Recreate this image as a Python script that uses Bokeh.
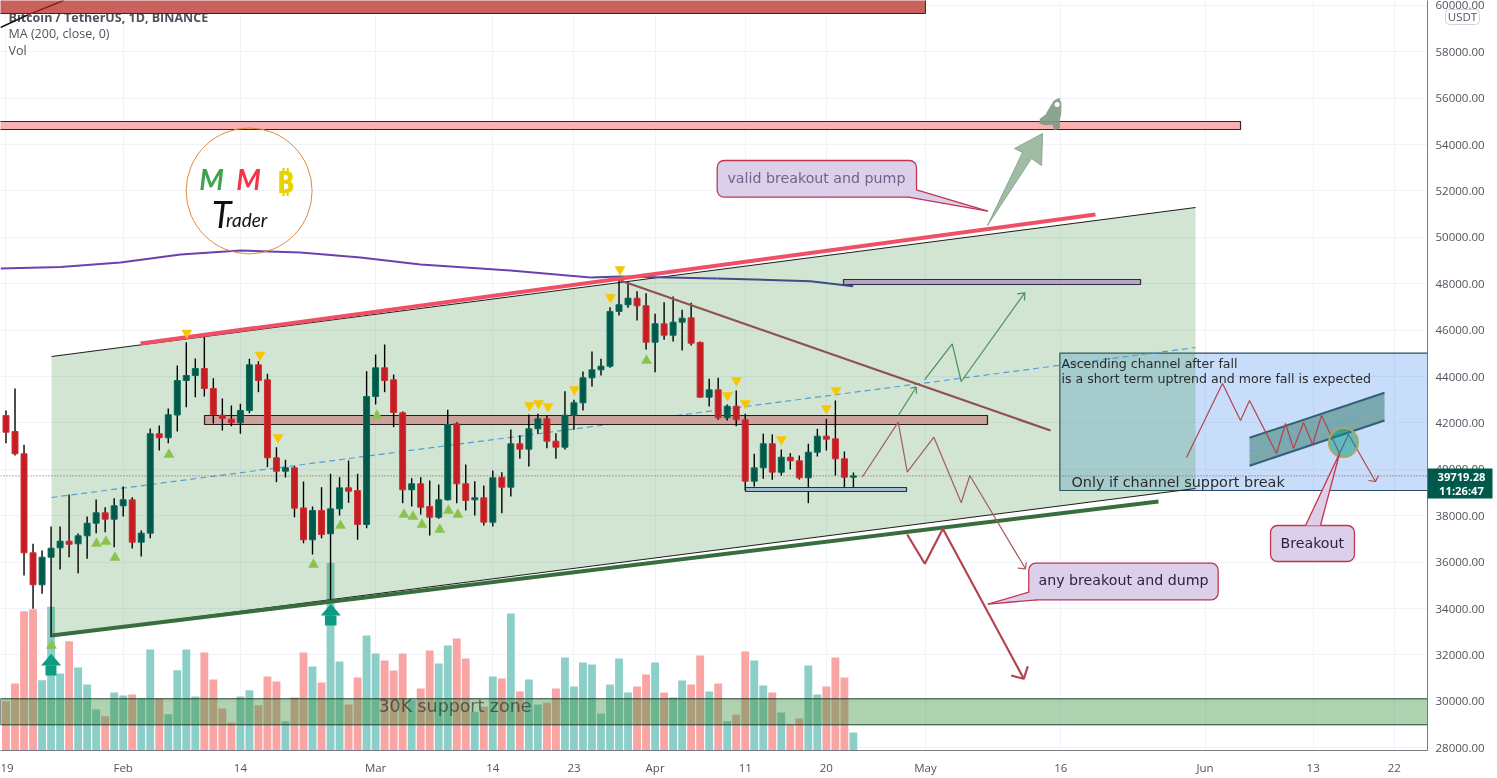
from bokeh.plotting import figure
from bokeh.embed import file_html
from bokeh.resources import INLINE
from bokeh.models import Range1d, FixedTicker, BoxAnnotation
from bokeh.core.properties import value

# ---- daily candles, Jan 19 = day 0 -------------------------------------
opens = [42322,41632,40671,36404,35025,36214,36619,36904,36792,37137,37680,38128,37852,38430,38688,36861,37249,41533,41360,42343,43830,44045,44347,43485,42334,42162,42007,42537,44507,43860,40498,39921,40067,38335,36964,38227,37223,38300,39205,39089,37624,43140,44377,43860,42438,39119,39378,38399,37938,38688,
         41964,39378,38688,38774,37723,39662,39231,41102,40869,41748,42179,41214,40955,42334,42869,43946,44291,44446,46804,47093,47377,47050,45481,46274,45782,46343,46532,45468,43110,43429,42222,42722,42136,39490,40067,41102,39878,40524,40369,39636,40740,41429,41317,40455,39662]
highs = [42537,43485,41059,36792,36503,37537,37537,38917,37236,37968,38701,38369,38757,39261,38800,37365,41761,41890,42623,44476,45481,44778,45813,43929,43054,42752,42826,44765,44662,44119,40955,40412,40136,39477,38399,39231,39809,39662,40382,39809,44231,44951,45382,44089,42494,39619,39662,39520,39348,42567,
         42033,40210,39490,39304,39951,39878,41718,41459,42365,42395,42321,41559,43369,42998,44218,45080,44765,46989,48213,48110,47679,47593,46705,47205,47450,46877,47179,45511,43903,43946,42796,43399,42395,40671,41533,41503,40856,40697,40597,41102,41748,42179,42968,40770,39865]
lows = [41128,40597,35425,33990,34637,32766,35684,36214,35525,36145,37249,37292,36645,37968,36589,36244,37033,40813,41128,41632,42679,43110,43140,41977,41675,41860,41533,42421,43326,40093,39447,39649,37938,36818,36331,37033,34275,38011,38559,36964,37464,42796,43326,41817,38542,38399,38055,37149,37869,38658,
        38542,38227,38011,37580,37537,38111,38830,40455,40123,41533,40912,40455,40856,41705,42537,43571,44045,44377,46631,46963,46416,45166,44188,45584,45511,45123,45338,43084,42709,42136,42106,41860,39089,39261,39593,39550,39735,39994,39563,38542,40554,40813,39735,39205,39231]
closes = [41602,40671,36404,35025,36214,36602,36904,36775,37137,37680,38128,37852,38430,38688,36861,37249,41533,41360,42352,43830,44045,44347,43485,42352,42192,42007,42537,44507,43830,40498,39921,40067,38326,36964,38227,37193,38300,39205,39059,37624,43140,44377,43830,42451,39119,39378,38369,37938,38688,41934,
          39378,38658,38774,37723,39636,39231,41102,40869,41748,42179,41214,40955,42334,42869,43946,44291,44446,46804,47093,47377,47050,45481,46274,45782,46343,46515,45438,43110,43429,42222,42722,42136,39490,40067,41102,39878,40524,40369,39636,40740,41429,41300,40455,39662,39719]
volumes = [49.3,67,139.3,141.3,70.3,143.7,77,109.3,83,66,41,34.3,58,55,56,52,101,52,36.3,80.3,101,54,98,71,42,28,54,60.3,45.3,74,69,29.3,53,98,84,68,187.6,89,46,73,115,97,90,80,97,50.3,62,100,87,105,
           112,92,38.7,43.7,74,72,137,59,71,46,47.7,62,93,64,88,86,37,66,92,58,64,76,88,58,53,70,66,95,59,67,29.3,36,99,90,65,58,38,26,32,85,56,64,93,73,18]

ma_days = [-0.61,6.05,12.70,19.36,26.01,32.67,39.32,45.98,52.63,55.96,64.83,68.16,78.92,89.24,93.98]
ma_vals = [48657,48722,48916,49261,49433,49347,49131,48830,48657,48571,48269,48312,48226,48110,47894]

time_ticks = [0,13,26,41,54,63,72,82,91,102,117,133,145,154]
time_labels = ["19","Feb","14","Mar","14","23","Apr","11","20","May","16","Jun","13","22"]
price_ticks = list(range(28000, 60001, 2000))

sell_days = [20.05,28.18,30.17,67.05,68.11,58.07,59.07,60.12,63.06,80.03,81.03,82.03,86.02,91.01,92.07]
sell_vals = [45886,44929,41373,47420,48614,42752,42839,42709,43442,43183,43830,42839,41287,42623,43399]
buy_days = [18.08,10.04,11.09,12.09,34.11,37.10,41.15,44.15,45.15,46.15,48.12,49.08,50.12,71.05,5.05]
buy_vals = [40641,36805,36891,36201,35900,37580,42321,38055,37968,37624,37408,38227,38055,44692,32408]

XL, XR = -0.61, 157.68
YL, YH = 27883, 60208
p = figure(width=1497, height=778, output_backend="svg", toolbar_location=None,
           x_range=Range1d(XL, XR), y_range=Range1d(YL, YH),
           y_axis_location="right", min_border_left=0, min_border_top=0,
           min_border_right=70, min_border_bottom=28,
           background_fill_color="white", border_fill_color="white", outline_line_color=None)
p.styles = {"position": "fixed", "left": "0px", "top": "0px"}
p.extra_y_ranges = {"vol": Range1d(0, 750)}

FONT = "Open Sans"
AXC = "#50535e"
p.xaxis.ticker = FixedTicker(ticks=time_ticks)
p.xaxis.major_label_overrides = dict(zip(time_ticks, time_labels))
p.yaxis.ticker = FixedTicker(ticks=price_ticks)
p.yaxis.major_label_overrides = {t: f"{t}.00" for t in price_ticks}
for ax in (p.xaxis[0], p.yaxis[0]):
    ax.major_tick_line_color = None
    ax.minor_tick_line_color = None
    ax.axis_line_color = "#787b86"
    ax.major_label_text_color = AXC
    ax.major_label_text_font = FONT
    ax.major_label_text_font_size = "11.5px"
p.yaxis.major_label_standoff = 2
p.xaxis.major_label_standoff = 3
p.xgrid.grid_line_color = "#f0f3fa"
p.ygrid.grid_line_color = "#f0f3fa"

idx = list(range(len(opens)))
GREEN, RED = "#00594a", "#c41e24"
up = [c >= o for o, c in zip(opens, closes)]

# volume
p.vbar(x=idx, bottom=0, top=volumes, width=0.87, y_range_name="vol", line_color=None,
       fill_color=["#8ccfc8" if u else "#f8a5a3" for u in up])

def txt(x, y, s, size="12px", color="#333333", font=FONT, style="normal", align="left", alpha=1.0, fig=None):
    return (fig or p).text([x], [y], text=[s], text_font=value(font), text_font_size=size, text_color=color,
                  text_font_style=style, text_align=align, text_baseline="middle", text_alpha=alpha)

txt(0.28, 59475, "Bitcoin / TetherUS, 1D, BINANCE", "12.5px", "#50535e", style="bold")
txt(0.28, 58786, "MA (200, close, 0)", "12.5px", "#50535e")
txt(0.28, 58053, "Vol", "12.5px", "#50535e")

def zone(l, r, b, t, fill, edge="#2a2a2a", alpha=1.0, w=1.0):
    p.quad(left=[l], right=[r], bottom=[b], top=[t], fill_color=fill, fill_alpha=alpha, line_color=edge, line_width=w)

# support band
zone(XL, XR + 1, 28991, 30111, "#388e3c", "#1f3d2a", 0.4)

# info panel sits under the channel
zone(116.9, XR + 1, 39089, 45007, "#1e78e6", "#2c4a63", 0.25, 1.2)

# main channel
ch_x = [5.05, 131.95, 131.95, 5.05]
ch_y = [44864, 51286, 39175, 32839]
p.patch(ch_x, ch_y, fill_color="#388e3c", fill_alpha=0.23, line_color=None)
p.line(ch_x[:2], ch_y[:2], line_color="#1c1c1c", line_width=1)
p.line(ch_x[2:], ch_y[2:], line_color="#1c1c1c", line_width=1)
p.line([5.05, 131.95], [38787, 45252], line_color="#5a9bd4", line_width=1.2, line_dash="6 4")

# last price line
p.line([XL, XR], [39719, 39719], line_color="#9c5048", line_width=1, line_dash="1 2")

# horizontal level behind the candles
zone(22.02, 108.87, 41934, 42321, "#c9a39b", "#2a1a1a", 1.0, 1.2)

# candles
p.segment(x0=idx, x1=idx, y0=lows, y1=highs, line_color="#000000", line_width=1.4)
p.vbar(x=idx, bottom=[min(a, b) for a, b in zip(opens, closes)], top=[max(a, b) for a, b in zip(opens, closes)],
       width=0.66, fill_color=[GREEN if u else RED for u in up],
       line_color=["#0a6b5a" if u else "#cf2f33" for u in up], line_width=1)

# zones
zone(XL - 1, 101.99, 59648, 60500, "#c9615f")
zone(XL - 1, 136.94, 54648, 54993, "#f8b0b0", "#3a2020", 1.0, 1.2)
zone(92.9, 125.85, 47968, 48183, "#b7a3c3", "#2e2a44", 1.0, 1.2)
zone(82.03, 99.89, 39046, 39218, "#a2bcd6", "#1f3350", 1.0, 1.2)

# moving average
p.line(ma_days[:11], ma_vals[:11], line_color="#6a42ad", line_width=2)
p.line(ma_days[10:13], ma_vals[10:13], line_color="#4a4a98", line_width=2)
p.line(ma_days[12:], ma_vals[12:], line_color="#3a4f86", line_width=2)

# trendlines
p.line([-0.61, 2.5], [59044, 59600], line_color="#101010", line_width=1.4)
p.line([2.5, 6.38], [59600, 60208], line_color="#8a1c20", line_width=1.4)
p.line([14.92, 120.85], [45425, 50985], line_color="#ef5065", line_width=4)
p.line([5.05, 127.84], [32839, 38615], line_color="#386e3d", line_width=4)
p.line([68.16, 115.86], [48140, 41675], line_color="#8e5050", line_width=2.2)

# signal markers
p.scatter(sell_days, sell_vals, marker="inverted_triangle", size=10, fill_color="#f7c600", line_color="#f7c600", line_width=0.5)
p.scatter(buy_days, buy_vals, marker="triangle", size=10, fill_color="#8bc34a", line_color="#8bc34a", line_width=0.5)

# teal arrows
TEAL = "#0d9b82"
p.patches([[5.01,3.9,6.12],[36.03,34.92,37.14]], [[32051,31546,31546],[34206,33701,33701]], fill_color=TEAL, line_color=None)
p.quad(left=[4.38,35.38], right=[5.6,36.66], bottom=[31115,33270], top=[31546,33701], fill_color=TEAL, line_color=None)

# projected paths
THIN_R, THICK_R, THIN_G = "#a65c5e", "#b5434f", "#4f8f57"
p.line([94.97,98.97,99.97,102.92,105.96,106.91,113.09],[39662,42033,39878,41386,38559,39735,35714], line_color=THIN_R, line_width=1.2)
p.line([112.23,113.09,113.16],[35740,35714,35999], line_color=THIN_R, line_width=1.2)
p.line([99.97,101.92,103.92,112.9],[37193,35930,37438,30973], line_color=THICK_R, line_width=2.2)
p.line([111.5,112.9,113.34],[31115,30973,31516], line_color=THICK_R, line_width=2.2)
p.line([98.97,100.97],[42321,43541], line_color=THIN_G, line_width=1.2)
p.line([100.33,100.97,101.0],[43498,43541,43257], line_color=THIN_G, line_width=1.2)
p.line([101.89,104.96,105.96,113.01],[43860,45412,43787,47610], line_color=THIN_G, line_width=1.2)
p.line([112.17,113.01,112.98],[47567,47610,47278], line_color=THIN_G, line_width=1.2)

# big arrow and rocket
p.patch([108.87,112.76,111.87,114.98,114.87,113.75],[50510,53657,53829,54476,53096,53398],
        fill_color="#a0bca4", line_color="#8aa78e", line_width=1)
p.patch([116.86,117.08,117.05,116.89,116.94,116.34,116.05,115.2,114.64,114.67,115.31,115.67,116.23],
        [56014,55756,55325,55036,54721,54605,54851,54834,54894,55109,55295,55540,55898],
        fill_color="#7f9a84", fill_alpha=0.9, line_color=None)
p.scatter([116.6],[55726], marker="circle", size=5, fill_color="white", line_color=None)

# logo
p.circle([26.97],[52000], radius=63, radius_units="screen", fill_color=None, line_color="#e08a3c", line_width=1)
txt(22.8, 52536, "M", "28px", "#3fa34d", "Lato", "bold italic", "center")
txt(26.9, 52536, "M", "28px", "#f23645", "Lato", "bold italic", "center")
txt(31.0, 52450, "₿", "31px", "#e8d300", "Noto Sans", "bold", "center")
txt(23.9, 50985, "T", "36px", "#111111", "Lato", "italic", "center")
txt(24.4, 50769, "rader", "19px", "#111111", "Lato", "italic")

# inset
p.patch([137.94,152.91,152.91,137.94],[41360,43300,42106,40154], fill_color="#1f6a50", fill_alpha=0.45, line_color=None)
p.line([137.94,152.91],[41360,43300], line_color="#335f79", line_width=2)
p.line([137.94,152.91],[40154,42106], line_color="#335f79", line_width=2)
p.line([137.94,152.91],[40770,42709], line_color="#5aa5dc", line_width=1, line_dash="6 4")
p.line([130.95,134.94,136.94,137.94,140.93,141.93,142.82,143.93,144.93,145.92,147.92,148.92,151.91],
       [40511,43701,42106,42968,40684,41977,40899,42020,41072,42321,40684,41503,39477], line_color="#b5434f", line_width=1.2)
p.line([151.14,151.91,152.25],[39520,39477,39735], line_color="#b5434f", line_width=1.2)
p.circle([148.36],[41158], radius=14.5, radius_units="screen", fill_color="#009688", fill_alpha=0.5,
         line_color="#a9a860", line_width=2)
DARK = "#2b2b2b"
txt(117.08, 44563, "Ascending channel after fall", "12.6px", DARK, "DejaVu Sans")
txt(117.08, 43916, "is a short term uptrend and more fall is expected", "12.6px", DARK, "DejaVu Sans")
txt(118.19, 39434, "Only if channel support break", "14.4px", DARK, "DejaVu Sans")
txt(41.32, 29822, "30K support zone", "17.4px", "#2a2a2a", "DejaVu Sans", alpha=0.65)

# callouts
FILL, EDGE = "#dccfe9", "#c2344f"
def callout(l, r, t, b, tx, ty, txt_color, label, lx, ly, size):
    box = BoxAnnotation(left=l, right=r, top=t, bottom=b, fill_color=FILL, fill_alpha=1, line_color=EDGE,
                        line_alpha=1, line_width=1.3, border_radius=7, level="glyph")
    p.add_layout(box)
    p.patch(tx, ty, fill_color=FILL, line_color=None, level="annotation")
    p.line(tx[:2], ty[:2], line_color=EDGE, line_width=1.3, level="annotation")
    p.line(tx[1:], ty[1:], line_color=EDGE, line_width=1.3, level="annotation")
    t1 = txt(lx, ly, label, size, txt_color, "DejaVu Sans")
    t1.level = "overlay"

callout(78.89, 101.0, 53312, 51730, [101.0,108.91,100.11], [52049,51127,51730], "#6d6488",
        "valid breakout and pump", 80.03, 52570, "14.2px")
callout(113.45, 134.46, 35956, 34378, [113.45,108.91,114.39], [34706,34189,34378], "#2a2440",
        "any breakout and dump", 114.53, 35240, "14.2px")
callout(140.27, 149.58, 37580, 36029, [144.15,147.92,145.81], [37580,40684,37580], "#2a2440",
        "Breakout", 141.37, 36805, "14.2px")

# price-scale tags: a narrow transparent layer over the axis column, same price scale
tag = figure(width=70, height=778, output_backend="svg", toolbar_location=None,
             x_range=Range1d(0, 70), y_range=Range1d(YL, YH), min_border=0, min_border_bottom=28,
             x_axis_type=None, y_axis_type=None, background_fill_color=None, border_fill_color=None,
             outline_line_color=None)
tag.styles = {"position": "fixed", "left": "1427px", "top": "0px", "pointer-events": "none"}
tag.grid.visible = False
tag.quad(left=[0], right=[65], bottom=[38744], top=[40037], fill_color="#00594a", line_color=None)
txt(34, 39666, "39719.28", "11.2px", "white", FONT, "bold", "center", fig=tag)
txt(34, 39085, "11:26:47", "11.2px", "white", FONT, "bold", "center", fig=tag)
tag.add_layout(BoxAnnotation(left=18, right=52, top=59820, bottom=59174, fill_color="white", fill_alpha=1,
                             line_color="#d1d4dc", line_alpha=1, line_width=1, border_radius=4, level="glyph"))
t2 = txt(35, 59497, "USDT", "11.5px", AXC, FONT, "normal", "center", fig=tag)
t2.level = "overlay"

open("out.html", "w").write(file_html([p, tag], INLINE))
